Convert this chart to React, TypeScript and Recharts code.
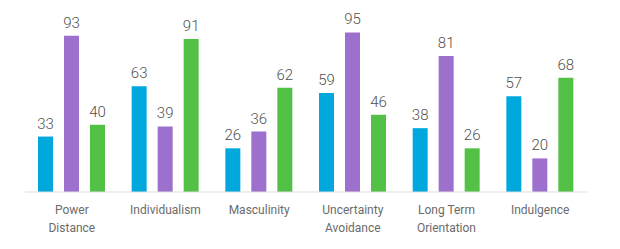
import { BarChart, Bar, XAxis, YAxis, LabelList } from "recharts";

const categories = [
  "Power Distance",
  "Individualism",
  "Masculinity",
  "Uncertainty Avoidance",
  "Long Term Orientation",
  "Indulgence",
];
const tickLines: Record<string, string[]> = {
  "Power Distance": ["Power", "Distance"],
  Individualism: ["Individualism"],
  Masculinity: ["Masculinity"],
  "Uncertainty Avoidance": ["Uncertainty", "Avoidance"],
  "Long Term Orientation": ["Long Term", "Orientation"],
  Indulgence: ["Indulgence"],
};
const seriesA = [33, 63, 26, 59, 38, 57];
const seriesB = [93, 39, 36, 95, 81, 20];
const seriesC = [40, 91, 62, 46, 26, 68];

const data = categories.map((name, i) => ({
  name,
  a: seriesA[i],
  b: seriesB[i],
  c: seriesC[i],
}));

function CategoryTick({ x, y, payload }: any) {
  const lines = tickLines[payload.value] ?? [payload.value];
  return (
    <text x={x} y={y} textAnchor="middle" fill="#6b6b6b" fontSize={12} fontFamily="Roboto, sans-serif">
      {lines.map((line, i) => (
        <tspan key={i} x={x} dy={i === 0 ? 14 : 18}>
          {line}
        </tspan>
      ))}
    </text>
  );
}

const labelStyle = { fill: "#505050", fontSize: 15, fontFamily: "Roboto, sans-serif", fontWeight: 300 };

export default function App() {
  return (
    <div style={{ position: "absolute", left: 0, top: 0, background: "#fff" }}>
      <BarChart
        width={620}
        height={249}
        data={data}
        margin={{ top: 24, right: 33, bottom: 0, left: 25 }}
        barSize={15}
        barGap={11}
      >
        <XAxis
          dataKey="name"
          tick={<CategoryTick />}
          tickLine={false}
          axisLine={{ stroke: "#dddddd" }}
          interval={0}
          height={57}
        />
        <YAxis hide domain={[0, 100]} />
        <Bar dataKey="a" fill="#00a8de" isAnimationActive={false}>
          <LabelList dataKey="a" position="top" offset={8} style={labelStyle} />
        </Bar>
        <Bar dataKey="b" fill="#9c70cc" isAnimationActive={false}>
          <LabelList dataKey="b" position="top" offset={8} style={labelStyle} />
        </Bar>
        <Bar dataKey="c" fill="#52c146" isAnimationActive={false}>
          <LabelList dataKey="c" position="top" offset={8} style={labelStyle} />
        </Bar>
      </BarChart>
    </div>
  );
}
